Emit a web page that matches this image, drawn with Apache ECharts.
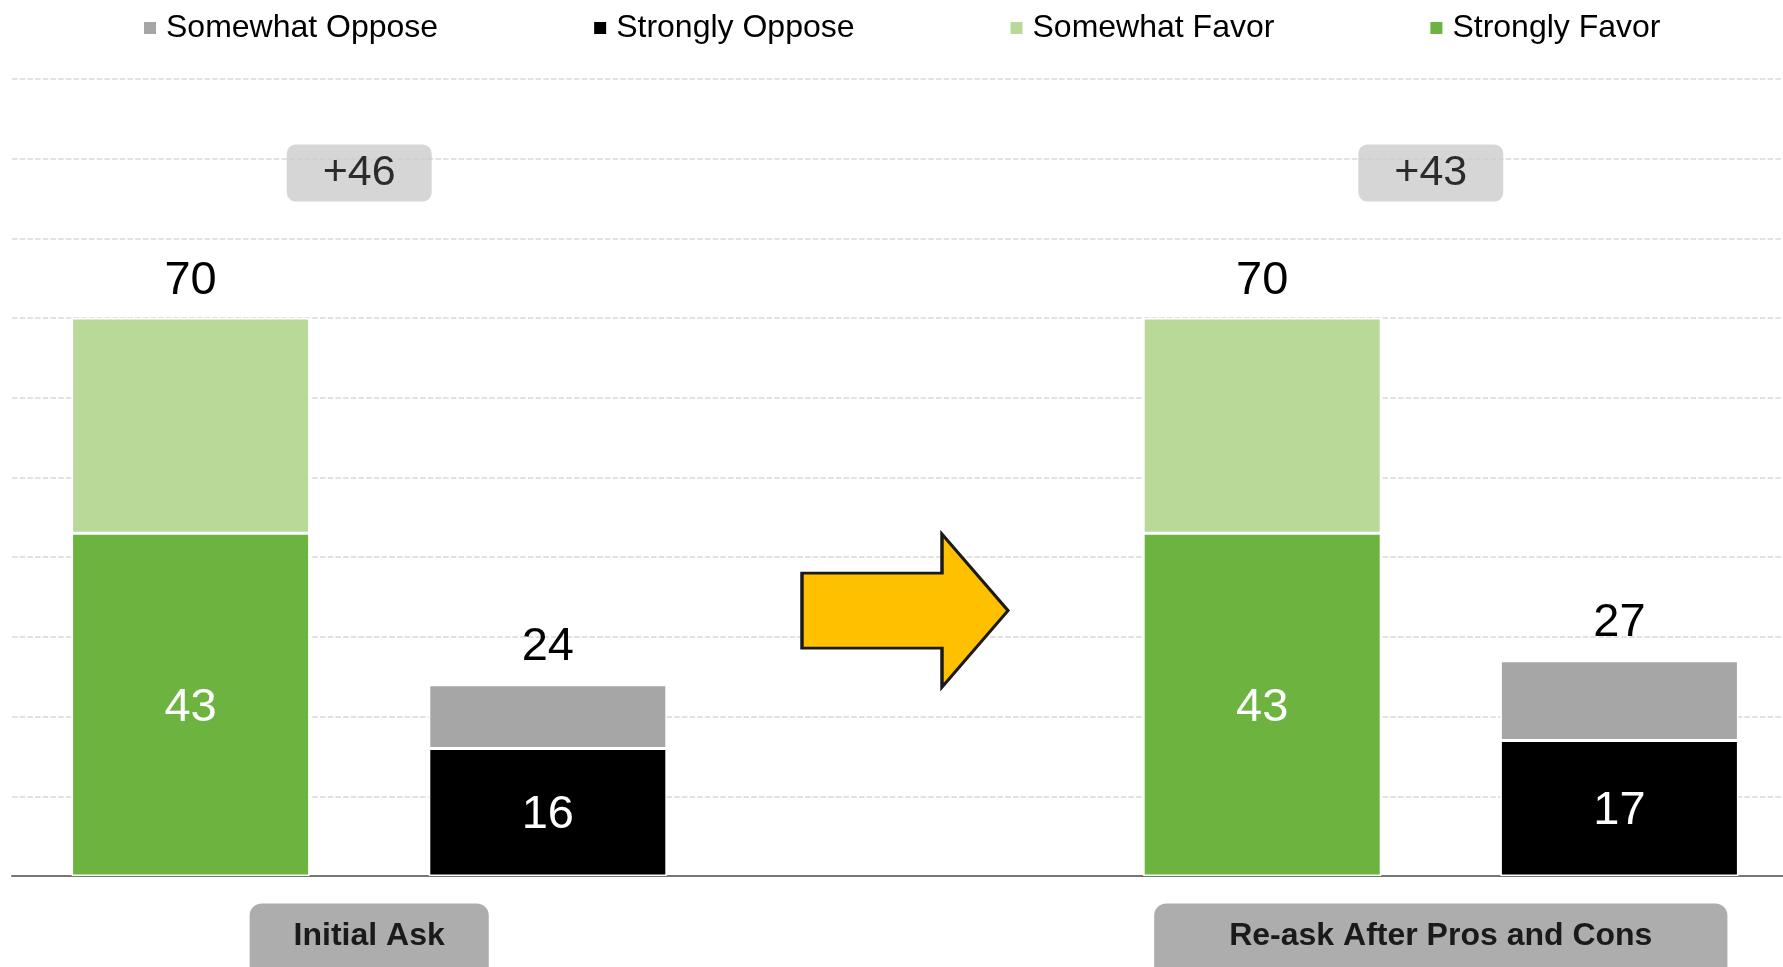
<!DOCTYPE html>
<html>
<head>
<meta charset="utf-8">
<script src="https://cdn.jsdelivr.net/npm/echarts@6/dist/echarts.min.js"></script>
<style>
html,body{margin:0;padding:0;background:#fff;}
#chart{width:1783px;height:967px;}
</style>
</head>
<body>
<div id="chart"></div>
<script>
// ---- data ----
const groupLabels = ['Initial Ask', 'Re-ask After Pros and Cons'];
const seriesNames = ['Somewhat Oppose', 'Strongly Oppose', 'Somewhat Favor', 'Strongly Favor'];
const stronglyFavor = [43, 43];
const somewhatFavor = [27, 27];
const stronglyOppose = [16, 17];
const somewhatOppose = [8, 10];

// ---- layout constants ----
const FONT = 'Liberation Sans, Arial, Helvetica, sans-serif';
const NET_Y = 88.2;     // vertical position (axis units) of the net boxes
const ARROW_Y = 33.3;   // vertical position (axis units) of the arrow

// slots: favor(g0), oppose(g0), arrow gap, favor(g1), oppose(g1)
const slots = ['F0', 'O0', 'GAP', 'F1', 'O1'];
function favorSlots(arr) { return [arr[0], '-', '-', arr[1], '-']; }
function opposeSlots(arr) { return ['-', arr[0], '-', '-', arr[1]]; }
function groupOfSlot(i) { return i < 2 ? 0 : 1; }

const favorTotal = stronglyFavor.map((v, i) => v + somewhatFavor[i]);
const opposeTotal = stronglyOppose.map((v, i) => v + somewhatOppose[i]);
const netVals = favorTotal.map((v, i) => v - opposeTotal[i]);

// group-label axis: 6 boundary positions, labels sit between each pair of bars
const groupAxisData = ['p0', 'g0', 'p2', 'p3', 'g1', 'p5'];

const chart = echarts.init(document.getElementById('chart'), null, {renderer: 'canvas'});

const barBase = {
  type: 'bar',
  stack: 'all',
  barWidth: 238,
  xAxisIndex: 0
};

const innerLabel = {
  show: true, position: 'inside', color: '#ffffff', offset: [0, 3],
  fontSize: 47, fontFamily: FONT
};

const option = {
  animation: false,
  backgroundColor: '#ffffff',
  textStyle: {fontFamily: FONT},
  legend: {
    data: seriesNames,
    left: 137, top: 7,
    itemWidth: 14, itemHeight: 14, itemGap: 154,
    icon: 'rect',
    selectedMode: false,
    textStyle: {fontSize: 32, color: '#000000', fontFamily: FONT, padding: [0, 0, 0, 4]}
  },
  grid: {left: 12, top: 79, bottom: 91, right: -15, containLabel: false, outerBoundsMode: 'none'},
  xAxis: [
    {
      type: 'category', data: slots, position: 'bottom',
      axisLine: {show: true, lineStyle: {color: '#767676', width: 2}},
      axisTick: {show: false}, axisLabel: {show: false}, splitLine: {show: false}
    },
    {
      type: 'category', data: groupAxisData, position: 'bottom', boundaryGap: false,
      axisLine: {show: false}, axisTick: {show: false}, splitLine: {show: false},
      axisLabel: {
        show: true, interval: 0, margin: 56,
        formatter: function (v) {
          if (v === 'g0') return '{a|' + groupLabels[0] + '}';
          if (v === 'g1') return '{b|' + groupLabels[1] + '}';
          return '';
        },
        rich: {
          a: {fontSize: 32, fontWeight: 'bold', color: '#1a1a1a', fontFamily: FONT,
              backgroundColor: '#adadad', borderRadius: 12, lineHeight: 32,
              padding: [17, 44, 40, 44]},
          b: {fontSize: 32, fontWeight: 'bold', color: '#1a1a1a', fontFamily: FONT,
              backgroundColor: '#adadad', borderRadius: 12, lineHeight: 32,
              padding: [17, 75, 40, 75]}
        }
      }
    }
  ],
  yAxis: {
    type: 'value', min: 0, max: 100, interval: 10,
    axisLine: {show: false}, axisTick: {show: false}, axisLabel: {show: false},
    splitLine: {show: true, lineStyle: {color: '#d9d9d9', type: [5.5, 2.2], width: 1.5}}
  },
  series: [
    Object.assign({}, barBase, {
      name: 'Strongly Favor', data: favorSlots(stronglyFavor),
      itemStyle: {color: '#6db33f', borderColor: '#ffffff', borderWidth: 1.5},
      label: innerLabel
    }),
    Object.assign({}, barBase, {
      name: 'Somewhat Favor', data: favorSlots(somewhatFavor),
      itemStyle: {color: '#b9d998', borderColor: '#ffffff', borderWidth: 1.5},
      label: {
        show: true, position: 'top', distance: 14, color: '#000000',
        fontSize: 47, fontFamily: FONT,
        formatter: function (p) { return String(favorTotal[groupOfSlot(p.dataIndex)]); }
      }
    }),
    Object.assign({}, barBase, {
      name: 'Strongly Oppose', data: opposeSlots(stronglyOppose),
      itemStyle: {color: '#000000', borderColor: '#ffffff', borderWidth: 1.5},
      label: innerLabel
    }),
    Object.assign({}, barBase, {
      name: 'Somewhat Oppose', data: opposeSlots(somewhatOppose),
      itemStyle: {color: '#a6a6a6', borderColor: '#ffffff', borderWidth: 1.5},
      label: {
        show: true, position: 'top', distance: 14, color: '#000000',
        fontSize: 47, fontFamily: FONT,
        formatter: function (p) { return String(opposeTotal[groupOfSlot(p.dataIndex)]); }
      }
    }),
    {
      type: 'scatter', name: 'net', xAxisIndex: 1, silent: true,
      data: [[1, NET_Y], [4, NET_Y]],
      symbolSize: 0, z: 5,
      label: {
        show: true, position: 'inside', offset: [-10, 0],
        formatter: function (p) { return '+' + netVals[p.dataIndex]; },
        fontSize: 43, fontFamily: FONT, color: '#000000',
        backgroundColor: '#cccccc', borderRadius: 9,
        lineHeight: 42, padding: [10, 36, 5, 36]
      }
    },
    {
      type: 'scatter', name: 'arrow', xAxisIndex: 0, silent: true,
      data: [[2, ARROW_Y]],
      symbol: 'path://M0,39 L140,39 L140,0 L206,76.5 L140,153 L140,114 L0,114 Z',
      symbolSize: [206, 153], symbolKeepAspect: false, z: 5,
      itemStyle: {color: '#ffc000', borderColor: '#1a1a1a', borderWidth: 3, opacity: 1}
    }
  ]
};

chart.setOption(option);
</script>
</body>
</html>
